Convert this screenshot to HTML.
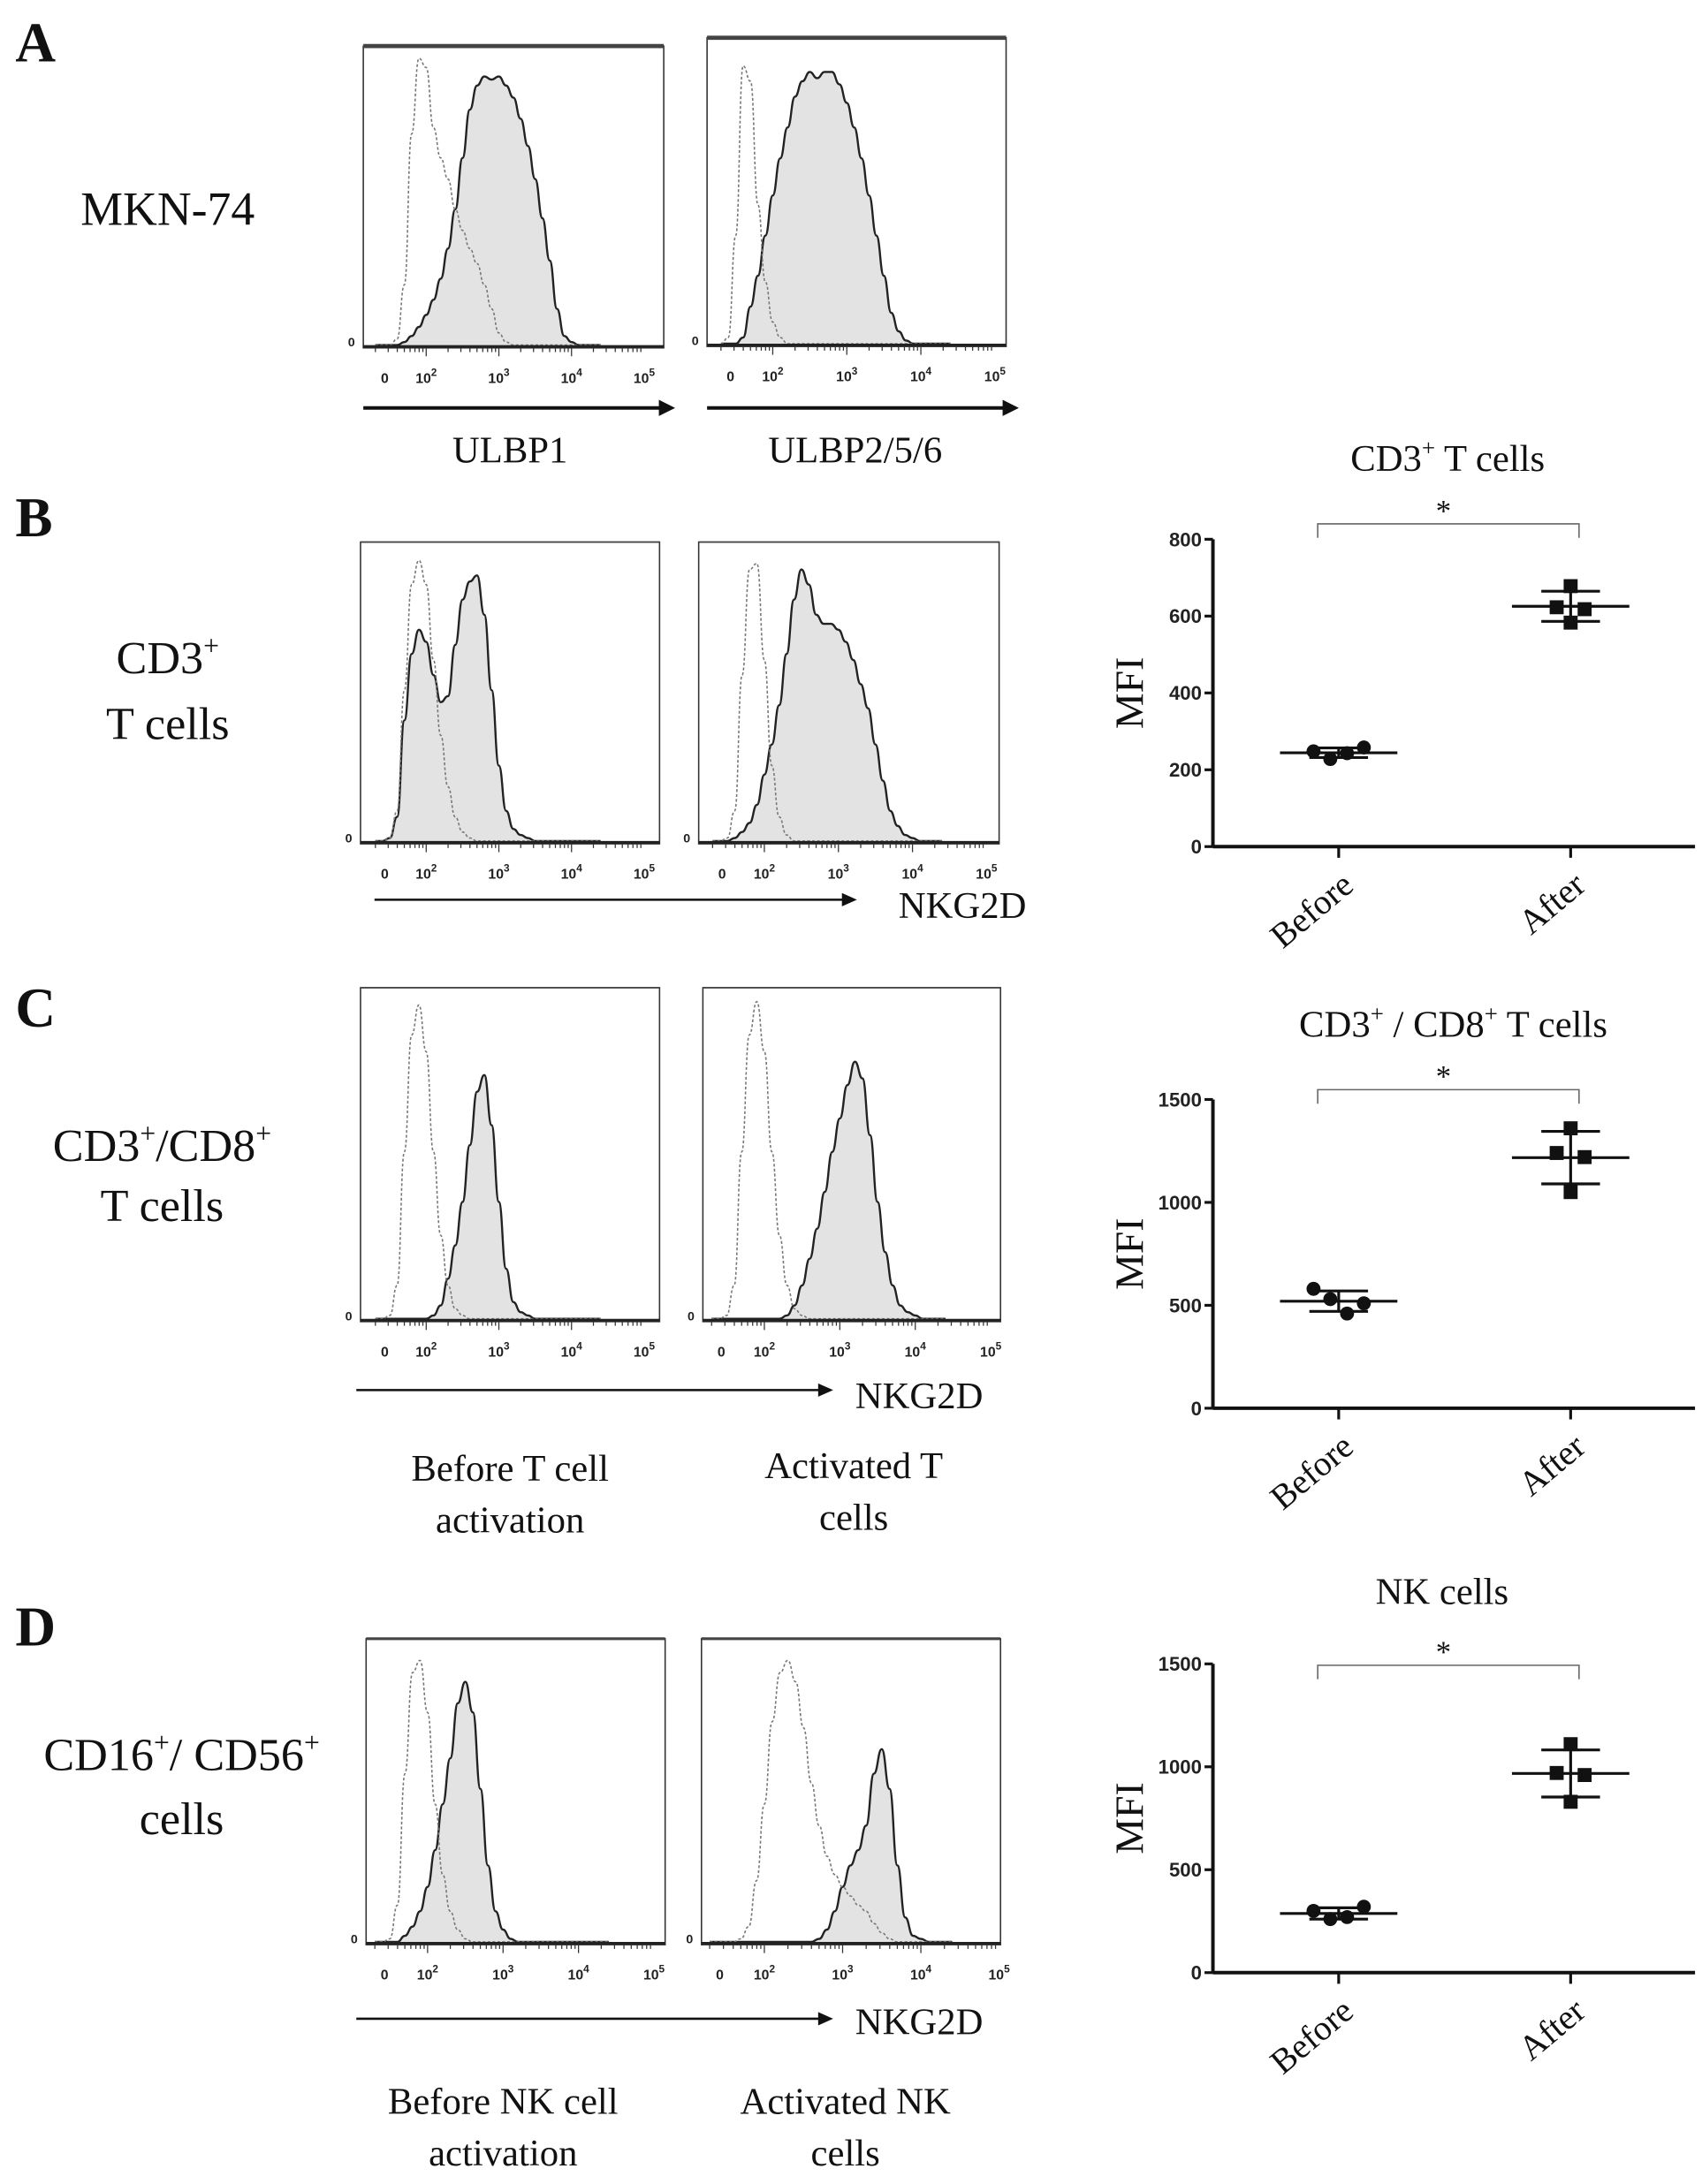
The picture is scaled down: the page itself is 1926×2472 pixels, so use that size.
<!DOCTYPE html>
<html><head><meta charset="utf-8">
<style>
html,body{margin:0;padding:0;background:#fff;}
svg{display:block;}
.serif{font-family:"Liberation Serif",serif;fill:#111;}
.sans{font-family:"Liberation Sans",sans-serif;font-weight:bold;fill:#222;}
</style></head>
<body>
<svg id="fig" width="1926" height="2472" viewBox="0 0 1218 1563.3" preserveAspectRatio="none" xmlns="http://www.w3.org/2000/svg">
<g id="static">
<text class="serif" x="11" y="44" font-size="40" font-weight="bold">A</text>
<text class="serif" x="11" y="384" font-size="40" font-weight="bold">B</text>
<text class="serif" x="11" y="735" font-size="40" font-weight="bold">C</text>
<text class="serif" x="11" y="1178" font-size="40" font-weight="bold">D</text>
<text class="serif" x="120" y="161" font-size="34" text-anchor="middle">MKN-74</text>
<text class="serif" x="120" y="482" font-size="33" text-anchor="middle">CD3<tspan font-size="20" dy="-13">+</tspan></text>
<text class="serif" x="120" y="529" font-size="33" text-anchor="middle">T cells</text>
<text class="serif" x="116" y="831" font-size="33" text-anchor="middle">CD3<tspan font-size="20" dy="-13">+</tspan><tspan dy="13">/CD8</tspan><tspan font-size="20" dy="-13">+</tspan></text>
<text class="serif" x="116" y="874" font-size="33" text-anchor="middle">T cells</text>
<text class="serif" x="130" y="1267" font-size="33" text-anchor="middle">CD16<tspan font-size="20" dy="-13">+</tspan><tspan dy="13">/ CD56</tspan><tspan font-size="20" dy="-13">+</tspan></text>
<text class="serif" x="130" y="1313" font-size="33" text-anchor="middle">cells</text>
<text class="serif" x="365" y="331" font-size="27" text-anchor="middle">ULBP1</text>
<text class="serif" x="612" y="331" font-size="27" text-anchor="middle">ULBP2/5/6</text>
<text class="serif" x="643" y="657" font-size="27">NKG2D</text>
<text class="serif" x="612" y="1008" font-size="27">NKG2D</text>
<text class="serif" x="612" y="1456" font-size="27">NKG2D</text>
<text class="serif" x="365" y="1060" font-size="27" text-anchor="middle">Before T cell</text>
<text class="serif" x="365" y="1097" font-size="27" text-anchor="middle">activation</text>
<text class="serif" x="611" y="1058" font-size="27" text-anchor="middle">Activated T</text>
<text class="serif" x="611" y="1095" font-size="27" text-anchor="middle">cells</text>
<text class="serif" x="360" y="1513" font-size="27" text-anchor="middle">Before NK cell</text>
<text class="serif" x="360" y="1550" font-size="27" text-anchor="middle">activation</text>
<text class="serif" x="605" y="1513" font-size="27" text-anchor="middle">Activated NK</text>
<text class="serif" x="605" y="1550" font-size="27" text-anchor="middle">cells</text>
<g stroke="#111" fill="#111">
<line x1="260" y1="292" x2="474" y2="292" stroke-width="2.5"/><polygon points="482,292 472,287 472,297"/>
<line x1="506" y1="292" x2="720" y2="292" stroke-width="2.5"/><polygon points="728,292 718,287 718,297"/>
<line x1="268" y1="644" x2="604" y2="644" stroke-width="1.6"/><polygon points="612,644 603,640 603,648"/>
<line x1="255" y1="995" x2="587" y2="995" stroke-width="1.6"/><polygon points="595,995 586,991 586,999"/>
<line x1="255" y1="1445" x2="587" y2="1445" stroke-width="1.6"/><polygon points="595,1445 586,1441 586,1449"/>
</g>
</g>
<g id="hists"></g>
<g id="scatters"></g>
</svg>
<script>
// ---- Histogram data (x grid in log decades: 10^2 -> 2) ----
const histGridU = [1.3,1.4,1.5,1.6,1.7,1.8,1.9,2.0,2.1,2.2,2.3,2.4,2.5,2.6,2.7,2.8,2.9,3.0,3.1,3.2,3.3,3.4,3.5,3.6,3.7,3.8,3.9,4.0,4.1,4.2,4.3,4.4];
const a1Ctrl = [0,0,0,0.02,0.2,0.7,0.95,0.92,0.72,0.62,0.55,0.45,0.38,0.32,0.27,0.2,0.12,0.04,0.01,0,0,0,0,0,0,0,0,0,0,0,0,0];
const a1Stain= [0,0,0,0,0.01,0.03,0.06,0.1,0.15,0.22,0.32,0.45,0.62,0.78,0.86,0.89,0.88,0.89,0.86,0.82,0.75,0.66,0.55,0.42,0.28,0.12,0.03,0.01,0,0,0,0];
const a2Ctrl = [0,0.02,0.35,0.9,0.85,0.45,0.2,0.07,0.02,0,0,0,0,0,0,0,0,0,0,0,0,0,0,0,0,0,0,0,0,0,0,0];
const a2Stain= [0,0,0,0.02,0.12,0.22,0.35,0.48,0.6,0.7,0.8,0.85,0.88,0.86,0.88,0.88,0.84,0.78,0.7,0.6,0.48,0.35,0.22,0.1,0.04,0.01,0,0,0,0,0,0];
const b1Ctrl = [0,0,0.01,0.1,0.5,0.85,0.93,0.85,0.6,0.35,0.18,0.08,0.03,0.01,0,0,0,0,0,0,0,0,0,0,0,0,0,0,0,0,0,0];
const b1Stain= [0,0,0.01,0.08,0.4,0.62,0.7,0.66,0.55,0.46,0.48,0.65,0.8,0.86,0.88,0.75,0.5,0.25,0.1,0.04,0.02,0.01,0,0,0,0,0,0,0,0,0,0];
const b2Ctrl = [0,0,0.01,0.1,0.55,0.9,0.92,0.6,0.25,0.08,0.02,0,0,0,0,0,0,0,0,0,0,0,0,0,0,0,0,0,0,0,0,0];
const b2Stain= [0,0,0,0.01,0.03,0.06,0.12,0.22,0.32,0.45,0.62,0.8,0.9,0.85,0.75,0.72,0.72,0.7,0.66,0.6,0.52,0.44,0.32,0.2,0.1,0.05,0.02,0.01,0,0,0,0];
const c1Ctrl = [0,0,0.01,0.1,0.5,0.85,0.94,0.8,0.5,0.25,0.1,0.03,0.01,0,0,0,0,0,0,0,0,0,0,0,0,0,0,0,0,0,0,0];
const c1Stain= [0,0,0,0,0,0,0,0,0.01,0.04,0.12,0.22,0.35,0.52,0.68,0.73,0.58,0.35,0.15,0.05,0.02,0.01,0,0,0,0,0,0,0,0,0,0];
const c2Ctrl = [0,0,0.01,0.1,0.5,0.85,0.95,0.8,0.5,0.25,0.1,0.03,0.01,0,0,0,0,0,0,0,0,0,0,0,0,0,0,0,0,0,0,0];
const c2Stain= [0,0,0,0,0,0,0,0,0,0,0.01,0.04,0.1,0.18,0.27,0.38,0.5,0.6,0.7,0.77,0.72,0.55,0.35,0.2,0.1,0.04,0.02,0.01,0,0,0,0];
const d1Ctrl = [0,0,0.01,0.12,0.55,0.88,0.92,0.75,0.45,0.22,0.1,0.04,0.01,0,0,0,0,0,0,0,0,0,0,0,0,0,0,0,0,0,0,0];
const d1Stain= [0,0,0,0,0.02,0.05,0.1,0.18,0.3,0.45,0.6,0.78,0.85,0.75,0.5,0.25,0.1,0.04,0.01,0,0,0,0,0,0,0,0,0,0,0,0,0];
const d2Ctrl = [0,0,0,0,0.01,0.05,0.2,0.45,0.72,0.88,0.92,0.85,0.7,0.52,0.38,0.28,0.22,0.18,0.15,0.12,0.1,0.06,0.03,0.01,0,0,0,0,0,0,0,0];
const d2Stain= [0,0,0,0,0,0,0,0,0,0,0,0,0,0,0.01,0.04,0.1,0.18,0.25,0.3,0.38,0.55,0.63,0.5,0.25,0.08,0.02,0.01,0,0,0,0];
const histTickLabels = ["0","10|2","10|3","10|4","10|5"];
const histTickU = [1.43,2,3,4,5];

// ---- Scatter data ----
const groups = ["Before","After"];
const bBefore = [248,228,243,258], bAfter = [678,623,618,583];
const cBefore = [580,530,460,510], cAfter = [1360,1240,1220,1050];
const dBefore = [300,260,270,320], dAfter = [1110,970,960,830];
const bTicks = [0,200,400,600,800];
const cdTicks = [0,500,1000,1500];

const NS="http://www.w3.org/2000/svg";
function mk(tag, attrs, parent){const e=document.createElementNS(NS,tag);for(const k in attrs)e.setAttribute(k,attrs[k]);parent.appendChild(e);return e;}

const hists=[
 {name:'a1',x0:260,x1:475,y0:33,y1:249,p2:305,p3:357,ctrl:a1Ctrl,stain:a1Stain,top:3},
 {name:'a2',x0:506,x1:720,y0:27,y1:248,p2:553,p3:606,ctrl:a2Ctrl,stain:a2Stain,top:3},
 {name:'b1',x0:258,x1:472,y0:388,y1:604,p2:305,p3:357,ctrl:b1Ctrl,stain:b1Stain,top:1},
 {name:'b2',x0:500,x1:715,y0:388,y1:604,p2:547,p3:600,ctrl:b2Ctrl,stain:b2Stain,top:1},
 {name:'c1',x0:258,x1:472,y0:707,y1:946,p2:305,p3:357,ctrl:c1Ctrl,stain:c1Stain,top:1},
 {name:'c2',x0:503,x1:716,y0:707,y1:946,p2:547,p3:601,ctrl:c2Ctrl,stain:c2Stain,top:1},
 {name:'d1',x0:262,x1:476,y0:1173,y1:1392,p2:306,p3:360,ctrl:d1Ctrl,stain:d1Stain,top:2},
 {name:'d2',x0:502,x1:716,y0:1173,y1:1392,p2:547,p3:603,ctrl:d2Ctrl,stain:d2Stain,top:2}
];
const hg=document.getElementById('hists');
hists.forEach(h=>{
  const g=mk('g',{},hg);
  
  
  const base=h.y1-2, H=h.y1-h.y0;
  const xs=u=>h.p2+(u-2)*(h.p3-h.p2);
  const ys=v=>base-v*H;
  const pts=arr=>histGridU.map((u,i)=>[Math.max(h.x0+1,Math.min(h.x1-1,xs(u))),ys(arr[i])]);
  function pathOf(p){let d='M'+p[0][0]+','+p[0][1];for(let i=1;i<p.length;i++){const a=p[i-1],b=p[i];const mx=(a[0]+b[0])/2;d+=' C'+mx+','+a[1]+' '+mx+','+b[1]+' '+b[0]+','+b[1];}return d;}
  const sp=pts(h.stain);
  const fill=mk('path',{d:pathOf(sp)+' L'+sp[sp.length-1][0]+','+base+' L'+sp[0][0]+','+base+' Z',fill:'#e3e3e3',stroke:'none'},g);
  
  
  const sl=mk('path',{d:pathOf(sp),fill:'none',stroke:'#222','stroke-width':1.5},g);
  
  
  const cl=mk('path',{d:pathOf(pts(h.ctrl)),fill:'none',stroke:'#777','stroke-width':1,'stroke-dasharray':'2,1.5'},g);
  
  
  const box=mk('rect',{x:h.x0,y:h.y0,width:h.x1-h.x0,height:h.y1-h.y0,fill:'none',stroke:'#333','stroke-width':1},g);
  
  
  mk('line',{x1:h.x0,y1:h.y0,x2:h.x1,y2:h.y0,stroke:'#444','stroke-width':h.top},g);
  mk('line',{x1:h.x0,y1:base+1,x2:h.x1,y2:base+1,stroke:'#222','stroke-width':2},g);
  for(let d=1;d<5;d++){for(let m=1;m<=9;m++){const u=d+Math.log10(m);const x=xs(u);if(x>h.x0&&x<h.x1)mk('line',{x1:x,y1:h.y1,x2:x,y2:h.y1+(m===1?6:3),stroke:'#333','stroke-width':0.8},g);}}
  const z=mk('text',{x:h.x0-11,y:base+1,'font-size':9,class:'sans'},g);z.textContent='0';
  histTickLabels.forEach((lab,i)=>{
    const t=mk('text',{x:xs(histTickU[i]),y:h.y1+25,'font-size':10,'text-anchor':'middle',class:'sans'},g);
    
    
    const parts=lab.split('|');t.textContent=parts[0];
    if(parts[1]){const s=mk('tspan',{dy:-5,'font-size':7.5},t);s.textContent=parts[1];}
  });
});

const scat=[
 {name:'b',title:['CD3','+',' T cells'],ty:337,tx:1036,y0:606,y1:386,max:800,ticks:bTicks,bef:bBefore,aft:bAfter,br:375},
 {name:'c',title:['CD3','+',' / CD8','+',' T cells'],ty:742,tx:1040,y0:1008,y1:787,max:1500,ticks:cdTicks,bef:cBefore,aft:cAfter,br:780},
 {name:'d',title:['NK cells'],ty:1148,tx:1032,y0:1412,y1:1191,max:1500,ticks:cdTicks,bef:dBefore,aft:dAfter,br:1192}
];
const sg=document.getElementById('scatters');
const ax0=868, ax1=1213, gx=[958,1124], jit=[-18,-6,6,18];
scat.forEach(s=>{
  const g=mk('g',{},sg);
  
  
  const ys=v=>s.y0+(s.y1-s.y0)*v/s.max;
  const t=mk('text',{x:s.tx,y:s.ty,'font-size':27,'text-anchor':'middle',class:'serif'},g);
  
  
  s.title.forEach((p,i)=>{const sp=mk('tspan',{},t);sp.textContent=p;if(p==='+'){sp.setAttribute('font-size',17);sp.setAttribute('dy',-11);}else if(i>0&&s.title[i-1]==='+'){sp.setAttribute('dy',11);}});
  mk('line',{x1:ax0,y1:s.y0,x2:ax0,y2:s.y1,stroke:'#111','stroke-width':2.5},g);
  mk('line',{x1:ax0,y1:s.y0,x2:ax1,y2:s.y0,stroke:'#111','stroke-width':2.5},g);
  s.ticks.forEach(v=>{mk('line',{x1:ax0-6,y1:ys(v),x2:ax0,y2:ys(v),stroke:'#111','stroke-width':2},g);
    const l=mk('text',{x:ax0-8,y:ys(v)+5,'font-size':14,'text-anchor':'end',class:'sans'},g);
    
    
    l.textContent=v;});
  const yl=mk('text',{x:0,y:0,'font-size':29,'text-anchor':'middle',class:'serif',transform:`translate(${818},${(s.y0+s.y1)/2}) rotate(-90)`},g);
  
  
  yl.textContent='MFI';
  groups.forEach((gname,i)=>{
    mk('line',{x1:gx[i],y1:s.y0,x2:gx[i],y2:s.y0+8,stroke:'#111','stroke-width':2},g);
    const xl=mk('text',{x:0,y:0,'font-size':25,'text-anchor':'end',class:'serif',transform:`translate(${gx[i]+12},${s.y0+30}) rotate(-40)`},g);
    
    
    xl.textContent=gname;
    const vals=i===0?s.bef:s.aft;
    const mean=vals.reduce((a,b)=>a+b,0)/vals.length;
    const sd=Math.sqrt(vals.reduce((a,b)=>a+(b-mean)*(b-mean),0)/(vals.length-1));
    const cx=gx[i];
    mk('line',{x1:cx-42,y1:ys(mean),x2:cx+42,y2:ys(mean),stroke:'#111','stroke-width':2},g);
    mk('line',{x1:cx-21,y1:ys(mean+sd),x2:cx+21,y2:ys(mean+sd),stroke:'#111','stroke-width':2},g);
    mk('line',{x1:cx-21,y1:ys(mean-sd),x2:cx+21,y2:ys(mean-sd),stroke:'#111','stroke-width':2},g);
    mk('line',{x1:cx,y1:ys(mean+sd),x2:cx,y2:ys(mean-sd),stroke:'#111','stroke-width':2},g);
    vals.forEach((v,k)=>{
      let m;
      if(i===0){m=mk('circle',{cx:cx+jit[k],cy:ys(v),r:5,fill:'#111'},g);}
      else{const jx=[0,-10,10,0][k]; m=mk('rect',{x:cx+jx-5,y:ys(v)-5,width:10,height:10,fill:'#111'},g);}
      
      
    });
  });
  const br=mk('path',{d:`M${gx[0]-15},${s.br+10} V${s.br} H${gx[1]+6} V${s.br+10}`,fill:'none',stroke:'#666','stroke-width':1},g);
  
  
  const st=mk('text',{x:(gx[0]+gx[1])/2-8,y:s.br-2,'font-size':22,'text-anchor':'middle',class:'serif'},g);
  
  
  st.textContent='*';
});
</script>
</body></html>
